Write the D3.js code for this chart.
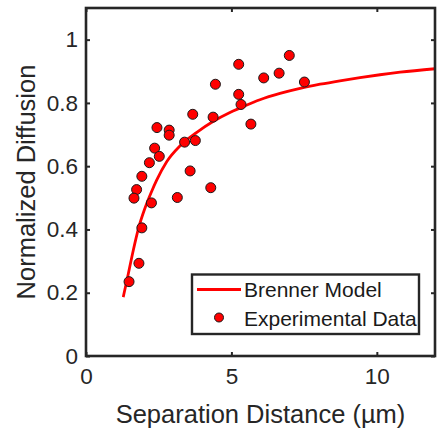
<!DOCTYPE html>
<html>
<head>
<meta charset="utf-8">
<script src="https://cdn.jsdelivr.net/npm/d3@7/dist/d3.min.js"></script>
<style>
html,body{margin:0;padding:0;background:#fff;}
svg{display:block;font-family:"Liberation Sans",Arial,Helvetica,sans-serif;}
</style>
</head>
<body>
<svg id="chart" width="441" height="433"></svg>
<script>
// Experimental data (separation distance in µm, normalized diffusion)
const expX = [1.92,2.18,2.36,2.52,2.44,2.86,2.86,3.39,3.76,3.58,3.67,4.37,4.45,5.25,5.25,5.33,5.67,6.11,6.64,6.99,7.51,1.74,1.65,2.25,3.14,4.29,1.92,1.82,1.48];
const expY = [0.568,0.611,0.657,0.631,0.722,0.714,0.698,0.676,0.681,0.585,0.764,0.755,0.859,0.922,0.827,0.795,0.733,0.879,0.894,0.950,0.866,0.526,0.499,0.484,0.501,0.532,0.405,0.293,0.235];

// Brenner model curve
const modelX = [1.28,1.455,1.63,1.80,2.03,2.26,2.43,2.78,3.23,3.81,4.38,4.95,5.30,5.98,6.67,7.36,8.05,8.73,9.42,10.11,10.80,12.0];
const modelY = [0.186,0.260,0.336,0.402,0.468,0.521,0.556,0.615,0.664,0.707,0.742,0.770,0.784,0.810,0.830,0.846,0.859,0.870,0.880,0.889,0.897,0.908];

const xTicks = [0,5,10];
const yTicks = [0,0.2,0.4,0.6,0.8,1];
const xLabel = "Separation Distance (µm)";
const yLabel = "Normalized Diffusion";
const legendLabels = ["Brenner Model","Experimental Data"];

const svg = d3.select("#chart");
const L = 86, R = 435, T = 8, B = 356;
const x = d3.scaleLinear().domain([0,12]).range([L,R]);
const y = d3.scaleLinear().domain([0,1.1]).range([B,T]);
const axisColor = "#262626";

// curve
const line = d3.line().x((d,i)=>x(modelX[i])).y((d,i)=>y(modelY[i])).curve(d3.curveMonotoneX);
svg.append("path").datum(modelX).attr("d", line)
  .attr("fill","none").attr("stroke","#ff0000").attr("stroke-width",2.8);

// points
svg.append("g").selectAll("circle").data(expX).join("circle")
  .attr("cx",(d,i)=>x(expX[i])).attr("cy",(d,i)=>y(expY[i])).attr("r",5)
  .attr("fill","#ff0000").attr("stroke","#1a1a1a").attr("stroke-width",1);

// axes
const tickLen = 4;
const axB = d3.axisBottom(x).tickValues(xTicks).tickSizeInner(-tickLen).tickSizeOuter(0).tickPadding(12).tickFormat(d3.format("d"));
const axT = d3.axisTop(x).tickValues(xTicks).tickSizeInner(-tickLen).tickSizeOuter(0).tickFormat("");
const axL = d3.axisLeft(y).tickValues(yTicks).tickSizeInner(-tickLen).tickSizeOuter(0).tickPadding(8).tickFormat(d=>d3.format("")(+d.toFixed(1)));
const axR = d3.axisRight(y).tickValues(yTicks).tickSizeInner(-tickLen).tickSizeOuter(0).tickFormat("");

function style(g){
  g.select(".domain").remove();
  g.selectAll(".tick line").attr("stroke",axisColor).attr("stroke-width",2);
  g.selectAll(".tick text").attr("fill",axisColor).attr("font-size",22.5).attr("font-family","'Liberation Sans',Arial,sans-serif");
}
svg.append("g").attr("transform",`translate(0,${B})`).call(axB).call(style);
svg.append("g").attr("transform",`translate(0,${T})`).call(axT).call(style);
svg.append("g").attr("transform",`translate(${L},0)`).call(axL).call(style);
svg.append("g").attr("transform",`translate(${R},0)`).call(axR).call(style);

// frame
svg.append("rect").attr("x",L).attr("y",T).attr("width",R-L).attr("height",B-T)
  .attr("fill","none").attr("stroke",axisColor).attr("stroke-width",2.6);

// axis labels
svg.append("text").attr("x",(L+R)/2).attr("y",423).attr("text-anchor","middle")
  .attr("font-size",25.5).attr("fill",axisColor).text(xLabel);
svg.append("text").attr("transform",`translate(35,${(T+B)/2}) rotate(-90)`).attr("text-anchor","middle")
  .attr("font-size",25.5).attr("fill",axisColor).text(yLabel);

// legend
const lg = svg.append("g");
lg.append("rect").attr("x",192).attr("y",274.5).attr("width",227).attr("height",59.5)
  .attr("fill","#fff").attr("stroke",axisColor).attr("stroke-width",2.4);
lg.append("line").attr("x1",197).attr("x2",241).attr("y1",289.5).attr("y2",289.5)
  .attr("stroke","#ff0000").attr("stroke-width",2.8);
lg.append("circle").attr("cx",219).attr("cy",317.5).attr("r",4.5)
  .attr("fill","#ff0000").attr("stroke","#1a1a1a").attr("stroke-width",1);
lg.selectAll("text.lt").data(legendLabels).join("text").attr("class","lt")
  .attr("x",244).attr("y",(d,i)=>297+i*28.5).attr("font-size",21).attr("fill","#1a1a1a").text(d=>d);
</script>
</body>
</html>
